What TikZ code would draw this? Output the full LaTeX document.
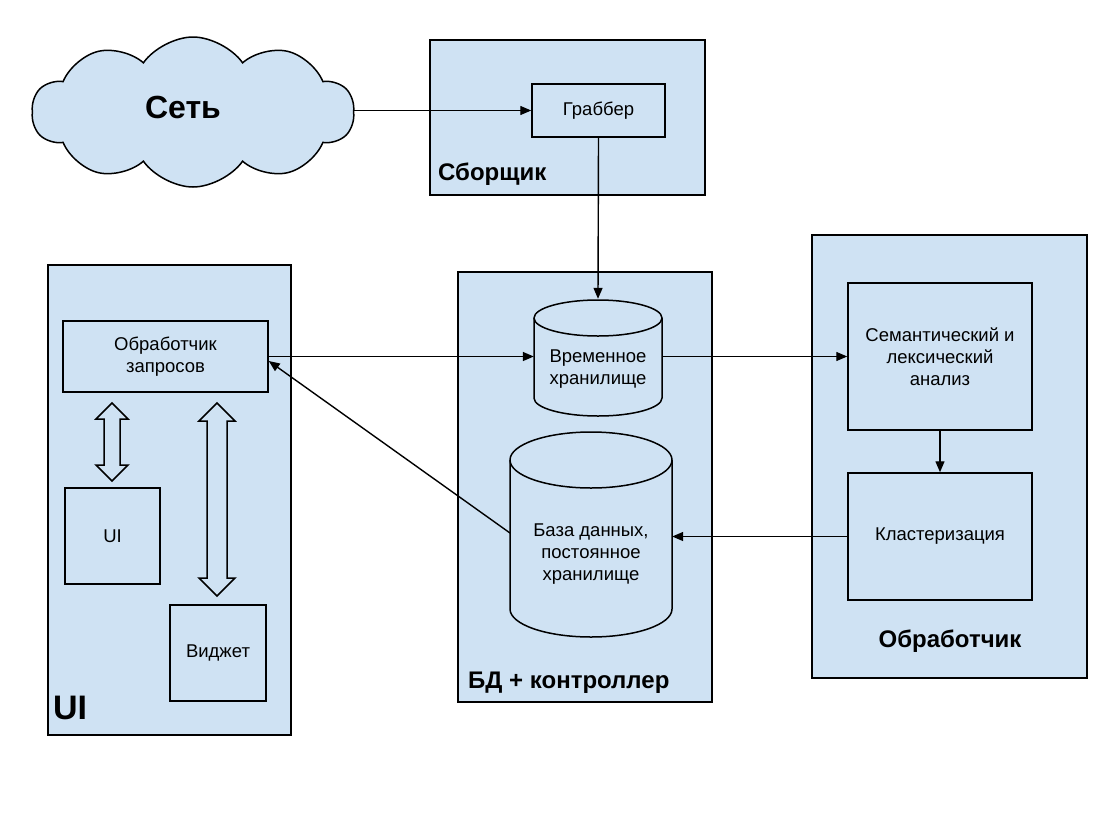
\documentclass[tikz,border=0pt]{standalone}
\usepackage{fontspec}
\setmainfont{Liberation Sans}
\usetikzlibrary{arrows.meta,shapes.symbols}
\definecolor{pale}{HTML}{CFE2F3}
\tikzset{
  panel/.style={draw=black, fill=pale, line width=1.6pt},
  box/.style={draw=black, fill=pale, line width=1.5pt, inner sep=0pt, align=center, font=\fontsize{18.5}{22}\selectfont},
  ghost/.style={inner sep=0pt, align=center, font=\fontsize{18.5}{22}\selectfont},
  cyl/.style={draw=black, fill=pale, line width=1.5pt},
  big/.style={font=\fontsize{24}{26}\selectfont\bfseries, inner sep=0pt, anchor=base west},
  conn/.style={draw=black, line width=1.4pt, -{Triangle[length=11pt,width=9pt]}},
  fat/.style={draw=black, fill=pale, line width=1.5pt, line join=miter},
}
\begin{document}
\begin{tikzpicture}[x=1pt,y=-1pt]
\path[use as bounding box, fill=white] (0,0) rectangle (1106,817);

% panels
\draw[panel] (430,40) rectangle (705,195);
\node[big] (lsb) at (438,180) {Сборщик};
\draw[panel] (48,265) rectangle (291,735);
\node[big, font=\fontsize{34}{36}\selectfont\bfseries] (lui) at (53,719) {UI};
\draw[panel] (458,272) rectangle (712,702);
\node[big] (lbd) at (468,688) {БД + контроллер};
\draw[panel] (812,235) rectangle (1087,678);
\node[big, anchor=base] (lob) at (950,647) {Обработчик};

% cloud
\node[cloud, cloud puffs=10, cloud puff arc=110, aspect=2.1, draw=black, fill=pale,
      line width=1.5pt, minimum width=322pt, minimum height=150pt, inner sep=0pt] (net) at (193,112) {};
\node[font=\fontsize{32}{34}\selectfont\bfseries] (netl) at (183,107) {Сеть};

% boxes
\node[box, minimum width=133pt, minimum height=53pt] (grab) at (598.5,110.5) {Граббер};
\node[box, minimum width=205pt, minimum height=71pt] (req) at (165.5,356.5) {Обработчик\\запросов};
\node[box, minimum width=95pt, minimum height=96pt] (ui) at (112.5,536) {UI};
\node[box, minimum width=96pt, minimum height=96pt] (wid) at (218,653) {Виджет};
\node[box, minimum width=184pt, minimum height=147pt] (sem) at (940,356.5) {Семантический и\\лексический\\анализ};
\node[box, minimum width=184pt, minimum height=127pt] (clu) at (940,536.5) {Кластеризация};

% cylinders
\draw[cyl] (534,318) -- (534,398) arc[start angle=180, end angle=0, x radius=64, y radius=18]
  -- (662,318) arc[start angle=0, end angle=-180, x radius=64, y radius=18];
\draw[cyl] (534,318) arc[start angle=180, end angle=0, x radius=64, y radius=18];
\node[ghost, minimum width=128pt, minimum height=118pt] (tmp) at (598,358) {};
\node[ghost] at (598,369) {Временное\\хранилище};

\draw[cyl] (510,460) -- (510,609) arc[start angle=180, end angle=0, x radius=81, y radius=28]
  -- (672,460) arc[start angle=0, end angle=-180, x radius=81, y radius=28];
\draw[cyl] (510,460) arc[start angle=180, end angle=0, x radius=81, y radius=28];
\node[ghost, minimum width=162pt, minimum height=205pt] (db) at (591,534.5) {};
\node[ghost] at (591,554) {База данных,\\постоянное\\хранилище};

% connectors
\draw[conn] (net.east |- grab.west) -- (grab.west);
\draw[conn] (grab.south) -- (tmp.north);
\draw[conn] (req.east) -- (tmp.west |- req.east);
\draw[conn] (tmp.east |- sem.west) -- (sem.west);
\draw[conn] (sem.south) -- (clu.north);
\draw[conn] (clu.west) -- (db.east |- clu.west);
\coordinate (dbl) at (510,533);
\draw[conn] (dbl) -- (req.south east |- 0,361);

% fat double arrows
\draw[fat] (112,403) -- (128,419) -- (120,419) -- (120,465) -- (128,465) -- (112,481)
  -- (96,465) -- (104,465) -- (104,419) -- (96,419) -- cycle;
\draw[fat] (217,403) -- (235,421) -- (227,421) -- (227,578) -- (235,578) -- (217,596)
  -- (199,578) -- (207,578) -- (207,421) -- (199,421) -- cycle;
\end{tikzpicture}
\end{document}
